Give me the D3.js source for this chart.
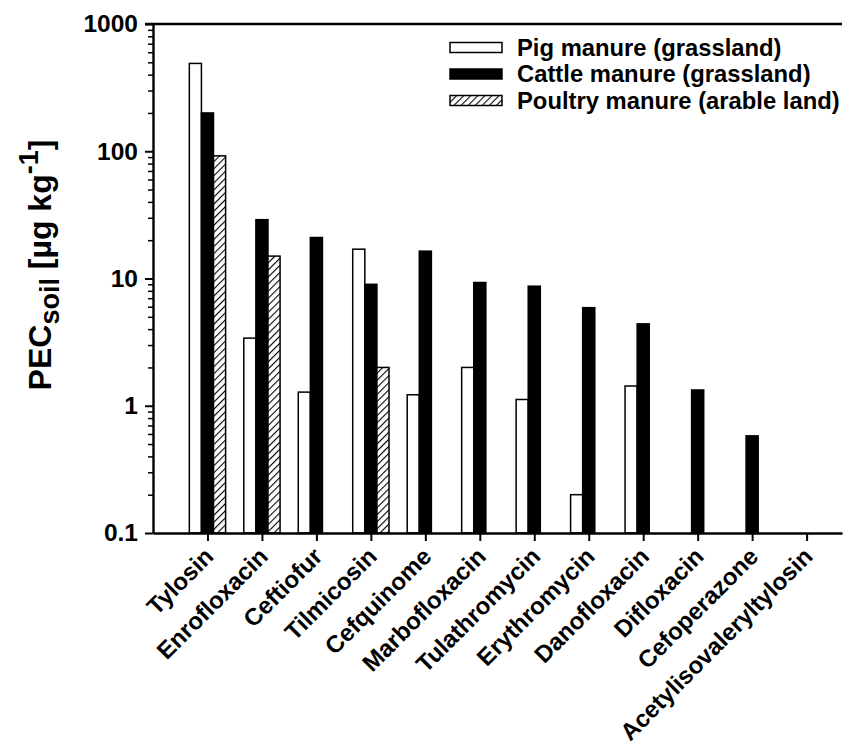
<!DOCTYPE html>
<html>
<head>
<meta charset="utf-8">
<script src="https://cdn.jsdelivr.net/npm/d3@7"></script>
<style>
  html, body { margin: 0; padding: 0; background: #fff; }
  svg { display: block; font-family: "Liberation Sans", Arial, Helvetica, sans-serif; font-weight: bold; }
</style>
</head>
<body>
<svg id="chart" width="844" height="741"></svg>
<script>
// Antibiotics on the x axis
const categories = [
  "Tylosin", "Enrofloxacin", "Ceftiofur", "Tilmicosin", "Cefquinome",
  "Marbofloxacin", "Tulathromycin", "Erythromycin", "Danofloxacin",
  "Difloxacin", "Cefoperazone", "Acetylisovaleryltylosin"
];

// PEC soil values in µg/kg (null = no value)
const pigValues     = [490, 3.4, 1.28, 17, 1.22, 2.0, 1.12, 0.2, 1.43, null, null, null];
const cattleValues  = [200, 29, 21, 9.0, 16.4, 9.3, 8.7, 5.9, 4.4, 1.33, 0.58, null];
const poultryValues = [92, 15, null, 2.0, null, null, null, null, null, null, null, null];

const seriesNames = [
  "Pig manure (grassland)",
  "Cattle manure (grassland)",
  "Poultry manure (arable land)"
];

const yMajorTicks = [0.1, 1, 10, 100, 1000];
const yTickLabels = ["0.1", "1", "10", "100", "1000"];

(function () {
const svg = d3.select("#chart");

const plotLeft = 153, plotRight = 842, plotTop = 24, plotBottom = 533;

// category index -1 sits on the y axis, one category step before the first group
const x = d3.scaleLinear().domain([-1, 11.65]).range([plotLeft, plotRight]);
const y = d3.scaleLog().domain([0.1, 1000]).range([plotBottom, plotTop]);

const step = x(1) - x(0);
const barW = step * 0.222;

// Hatch pattern for the poultry series
const defs = svg.append("defs");
const pat = defs.append("pattern")
  .attr("id", "hatch")
  .attr("patternUnits", "userSpaceOnUse")
  .attr("width", 5).attr("height", 5)
  .attr("patternTransform", "rotate(45)");
pat.append("rect").attr("width", 5).attr("height", 5).attr("fill", "#fff");
pat.append("line").attr("x1", 0).attr("y1", 0).attr("x2", 0).attr("y2", 5)
  .attr("stroke", "#000").attr("stroke-width", 2.2);

const series = [
  { values: pigValues,     fill: "#fff",         offset: -1.5 },
  { values: cattleValues,  fill: "#000",         offset: -0.5 },
  { values: poultryValues, fill: "url(#hatch)",  offset: 0.5 }
];

// Bars
series.forEach(s => {
  const data = s.values.map((v, i) => ({ i, v })).filter(d => d.v != null);
  svg.append("g").selectAll("rect").data(data).join("rect")
    .attr("x", d => x(d.i) + s.offset * barW)
    .attr("width", barW)
    .attr("y", d => y(d.v))
    .attr("height", d => y(0.1) - y(d.v))
    .attr("fill", s.fill)
    .attr("stroke", "#000")
    .attr("stroke-width", 1.5);
});

// Minor ticks on the log axis
const minorTicks = [];
for (let e = -1; e < 3; e++) {
  for (let k = 2; k <= 9; k++) minorTicks.push(k * Math.pow(10, e));
}
const yMinor = svg.append("g")
  .attr("transform", `translate(${plotLeft},0)`)
  .call(d3.axisLeft(y).tickValues(minorTicks).tickSize(5).tickFormat(""));
yMinor.select(".domain").remove();
yMinor.selectAll(".tick line").attr("stroke-width", 1.5);

// Major ticks and labels
const yAxis = svg.append("g")
  .attr("transform", `translate(${plotLeft},0)`)
  .call(d3.axisLeft(y).tickValues(yMajorTicks).tickSize(8).tickSizeOuter(0)
    .tickPadding(7)
    .tickFormat((d, i) => yTickLabels[i]));
yAxis.select(".domain").attr("stroke-width", 2.4);
yAxis.selectAll(".tick line").attr("stroke-width", 2);
yAxis.selectAll(".tick text")
  .attr("font-size", 24.5).attr("font-weight", "bold")
  .attr("font-family", "Liberation Sans, Arial, sans-serif")
  .attr("fill", "#000");

// Bottom axis with category ticks
const xAxis = svg.append("g")
  .attr("transform", `translate(0,${plotBottom})`)
  .call(d3.axisBottom(x).tickValues(d3.range(categories.length)).tickSize(8).tickSizeOuter(0)
    .tickFormat(i => categories[i]));
xAxis.select(".domain").attr("stroke-width", 2.4);
xAxis.selectAll(".tick line").attr("stroke-width", 2);
xAxis.selectAll(".tick text")
  .attr("font-size", 24).attr("font-weight", "bold")
  .attr("font-family", "Liberation Sans, Arial, sans-serif")
  .attr("fill", "#000")
  .attr("text-anchor", "end")
  .attr("dy", null)
  .attr("y", null)
  .attr("transform", "translate(7,25) rotate(-45)");

// Top frame line
svg.append("line")
  .attr("x1", plotLeft - 8).attr("x2", plotRight)
  .attr("y1", y(1000)).attr("y2", y(1000))
  .attr("stroke", "#000").attr("stroke-width", 2.4);

// Y axis title
const title = svg.append("text")
  .attr("transform", `translate(51,265) rotate(-90)`)
  .attr("text-anchor", "middle")
  .attr("font-size", 32)
  .style("white-space", "pre");
title.append("tspan").text("PEC");
title.append("tspan").attr("dy", 8).attr("font-size", 27).text("soil");
title.append("tspan").attr("dy", -8).text(" [µg kg");
title.append("tspan").attr("dy", -13).attr("font-size", 27).text("-1");
title.append("tspan").attr("dy", 13).text("]");

// Legend
const legend = svg.append("g");
series.forEach((s, k) => {
  const cy = 47.5 + k * 26.5;
  legend.append("rect")
    .attr("x", 450).attr("y", cy - 5)
    .attr("width", 52).attr("height", 10)
    .attr("fill", s.fill).attr("stroke", "#000").attr("stroke-width", 1.5);
  legend.append("text")
    .attr("x", 517).attr("y", cy)
    .attr("dy", "0.35em")
    .attr("font-size", 23.8)
    .text(seriesNames[k]);
});
})();
</script>
</body>
</html>
